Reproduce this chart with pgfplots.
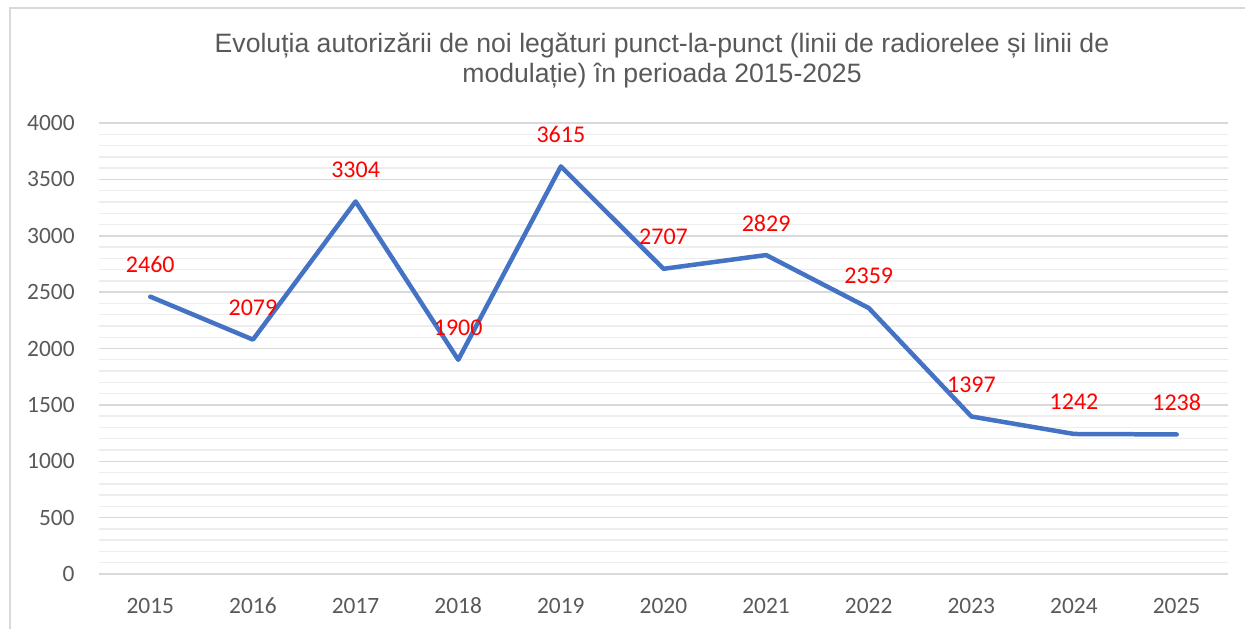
\documentclass[border=0pt]{standalone}
\usepackage{fontspec}
\setmainfont{Carlito}
\newfontfamily\titlefont{Liberation Sans}
\usepackage{pgfplots}
\pgfplotsset{compat=1.18}
\definecolor{lineblue}{HTML}{4472C4}
\definecolor{txtgray}{HTML}{595959}
\definecolor{gridmaj}{HTML}{D9D9D9}
\definecolor{gridmin}{HTML}{EDEDED}
\begin{document}
\begin{tikzpicture}
% picture frame, 1px = 0.5pt
\useasboundingbox (0pt,0pt) rectangle (622.5pt,-314.5pt);
\draw[gridmaj, line width=0.8pt] (5pt,-314.5pt) -- (5pt,-4pt) -- (622.5pt,-4pt);
\node[align=center, text=txtgray, font=\titlefont\fontsize{13.3}{15}\selectfont]
  at (331pt,-30.5pt) {Evoluția autorizării de noi legături punct-la-punct (linii de radiorelee și linii de\\ modulație) în perioada 2015-2025};
\begin{axis}[
    at={(49.5pt,-287pt)}, anchor=south west,
    scale only axis,
    width=564.5pt, height=225.5pt,
    xmin=2014.5, xmax=2025.5,
    ymin=0, ymax=4000,
    xtick={2015,...,2025},
    ytick={0,500,...,4000},
    minor y tick num=4,
    ymajorgrids, yminorgrids,
    major grid style={gridmaj, line width=0.75pt},
    minor grid style={gridmin, line width=0.7pt},
    axis line style={draw=none},
    major tick length=0pt, minor tick length=0pt,
    /pgf/number format/1000 sep={},
    /pgf/number format/assume math mode=true,
    tick label style={font=\fontsize{11.7}{13}\selectfont, text=txtgray, inner sep=0pt},
    yticklabel style={xshift=-12pt},
    xticklabel style={anchor=base, yshift=-19.5pt},
    clip=false,
    nodes near coords,
    every node near coord/.append style={anchor=center, yshift=16pt, text=red,
      font=\fontsize{12}{14}\selectfont},
]
\addplot[lineblue, line width=2.25pt, line join=round, line cap=round] coordinates {
  (2015,2460) (2016,2079) (2017,3304) (2018,1900) (2019,3615) (2020,2707)
  (2021,2829) (2022,2359) (2023,1397) (2024,1242) (2025,1238)
};
\end{axis}
\end{tikzpicture}
\end{document}
